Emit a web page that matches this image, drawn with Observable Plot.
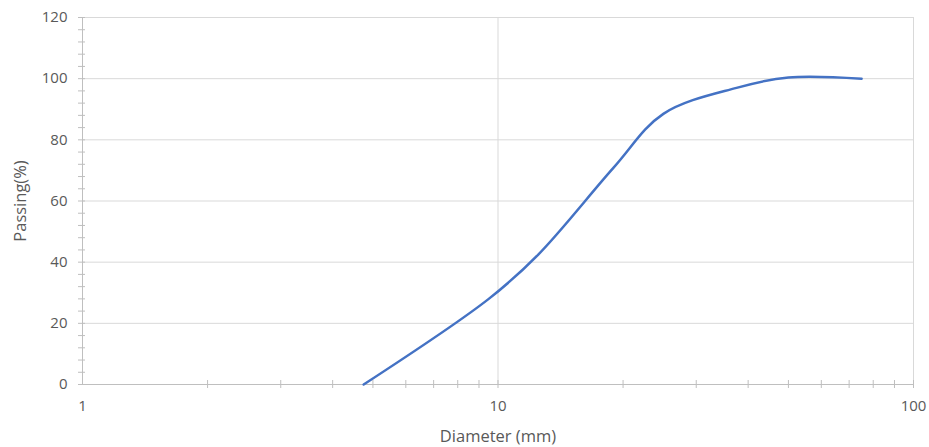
<!DOCTYPE html>
<html>
<head>
<meta charset="utf-8">
<script src="https://cdn.jsdelivr.net/npm/d3@7"></script>
<script src="https://cdn.jsdelivr.net/npm/@observablehq/plot@0.6"></script>
<style>
  body { margin: 0; background: #fff; }
  #chart svg { display: block; }
</style>
</head>
<body>
<div id="chart"></div>
<script>
// Data
const diameters = [4.75, 9.5, 12.5, 19, 25, 37.5, 50, 75];
const passing    = [0, 28, 42.5, 71, 88.5, 97, 100.4, 100];

// Tick definitions
const yMajorTicks = [0, 20, 40, 60, 80, 100, 120];
const yMinorTicks = d3.range(0, 121, 4);
const xMajorTicks = [1, 10, 100];
const xMinorTicks = [2, 3, 4, 5, 6, 7, 8, 9, 10, 20, 30, 40, 50, 60, 70, 80, 90, 100];
const xTitle = "Diameter (mm)";
const yTitle = "Passing(%)";

const data = diameters.map((d, i) => ({d, p: passing[i]}));

const grid = "#d9d9d9";
const axisColor = "#bfbfbf";
const textColor = "#595959";

const chart = Plot.plot({
  width: 929,
  height: 447,
  marginLeft: 82,
  marginRight: 16,
  marginTop: 17,
  marginBottom: 63,
  style: {fontFamily: "'Open Sans', sans-serif", fontSize: "15px", background: "#fff", color: textColor},
  x: {type: "log", domain: [1, 100]},
  y: {domain: [0, 120]},
  marks: [
    Plot.gridY(yMajorTicks.filter(v => v > 0), {stroke: grid, strokeOpacity: 1}),
    Plot.gridX(xMajorTicks.filter(v => v > 1), {stroke: grid, strokeOpacity: 1}),
    Plot.ruleX([1], {stroke: axisColor}),
    Plot.ruleY([0], {stroke: axisColor}),
    // minor / major ticks crossing the axes
    Plot.axisY(yMinorTicks, {tickSize: 7, dx: 3, stroke: axisColor, text: null, label: null}),
    Plot.axisX(xMinorTicks, {tickSize: 8, dy: -4, stroke: axisColor, text: null, label: null}),
    // tick labels
    Plot.axisY(yMajorTicks, {tickSize: 0, tickPadding: 15, fill: textColor, fontSize: 15, label: null}),
    Plot.axisX(xMajorTicks, {tickSize: 0, tickPadding: 16, fill: textColor, fontSize: 15,
      tickFormat: d => String(d), label: null}),
    // axis titles
    Plot.text([xTitle], {text: d => d, frameAnchor: "bottom", dy: 52, textAnchor: "middle", lineAnchor: "middle",
      fontSize: 16.5, fill: textColor}),
    Plot.text([yTitle], {text: d => d, frameAnchor: "left", dx: -62, rotate: -90, textAnchor: "middle", lineAnchor: "middle",
      fontSize: 16.5, fill: textColor}),
    Plot.line(data, {x: "d", y: "p", curve: "catmull-rom", stroke: "#4472C4", strokeWidth: 2.5})
  ]
});

document.getElementById("chart").appendChild(chart);
</script>
</body>
</html>
